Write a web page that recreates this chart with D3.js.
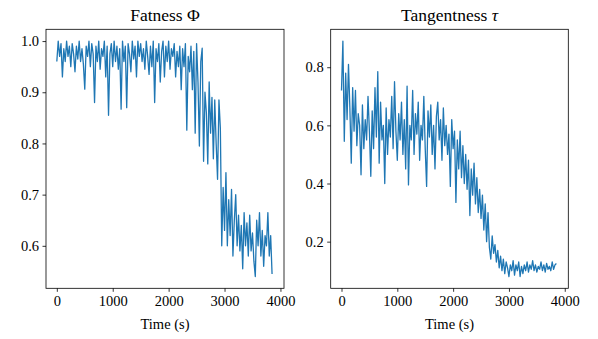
<!DOCTYPE html>
<html>
<head>
<meta charset="utf-8">
<script src="https://cdn.jsdelivr.net/npm/d3@7"></script>
<style>
  body { margin: 0; background: #fff; }
  text { font-family: "Liberation Serif", "DejaVu Serif", serif; fill: #000; }
</style>
</head>
<body>
<svg id="chart"></svg>
<script>
// sampling interval of the recording (s)
const timeStep = 25;

// Fatness Phi, one value per sample
const fatness = [
  0.96, 1.0, 0.97, 0.995, 0.93, 0.985, 0.96, 1.0, 0.97, 0.99,
  0.95, 0.995, 0.975, 0.94, 0.99, 0.965, 1.0, 0.96, 0.985, 0.955,
  0.906, 0.99, 0.97, 1.0, 0.95, 0.995, 0.975, 0.88, 0.99, 0.96,
  1.0, 0.945, 0.985, 0.97, 1.0, 0.93, 0.99, 0.855, 0.975, 0.995,
  0.95, 1.0, 0.96, 0.99, 0.945, 0.985, 0.867, 1.0, 0.96, 0.99,
  0.87, 0.995, 0.975, 0.94, 1.0, 0.965, 0.99, 0.93, 1.0, 0.97,
  0.995, 0.96, 0.985, 0.945, 1.0, 0.97, 0.935, 0.99, 0.95, 1.0,
  0.88, 0.985, 0.96, 0.995, 0.92, 0.98, 1.0, 0.93, 0.99, 0.96,
  1.0, 0.945, 0.985, 0.97, 0.995, 0.93, 0.98, 0.95, 0.99, 0.905,
  0.985, 0.95, 0.995, 0.826, 0.97, 0.94, 0.99, 0.905, 0.98, 0.82,
  0.995, 0.92, 0.795, 0.96, 0.986, 0.765, 0.9, 0.86, 0.76, 0.92,
  0.82, 0.89, 0.77, 0.885, 0.8, 0.73, 0.885, 0.83, 0.6, 0.714,
  0.63, 0.743, 0.6, 0.69, 0.62, 0.71, 0.58, 0.65, 0.7, 0.6,
  0.66, 0.59, 0.64, 0.555, 0.665, 0.6, 0.645, 0.58, 0.66, 0.59,
  0.625, 0.57, 0.54, 0.65, 0.6, 0.665, 0.58, 0.63, 0.56, 0.62,
  0.6, 0.665, 0.58, 0.62, 0.545
];

// Tangentness tau, one value per sample
const tangentness = [
  0.72, 0.89, 0.545, 0.78, 0.62, 0.81, 0.66, 0.47, 0.73, 0.58,
  0.72, 0.53, 0.64, 0.6, 0.43, 0.67, 0.52, 0.62, 0.55, 0.7,
  0.58, 0.425, 0.65, 0.52, 0.73, 0.56, 0.785, 0.47, 0.68, 0.55,
  0.6, 0.4, 0.66, 0.5, 0.62, 0.56, 0.7, 0.52, 0.75, 0.58,
  0.48, 0.64, 0.55, 0.68, 0.5, 0.62, 0.45, 0.735, 0.395, 0.6,
  0.55, 0.72, 0.5, 0.64, 0.57, 0.68, 0.48, 0.6, 0.55, 0.7,
  0.52, 0.39, 0.65, 0.56, 0.67, 0.5, 0.6, 0.45, 0.63, 0.68,
  0.55, 0.62, 0.48, 0.66, 0.53, 0.6, 0.5, 0.57, 0.39, 0.62,
  0.52, 0.58, 0.335, 0.55, 0.45, 0.58, 0.42, 0.53, 0.4, 0.5,
  0.38, 0.48, 0.29, 0.45, 0.36, 0.47, 0.33, 0.42, 0.3, 0.38,
  0.28, 0.36, 0.24, 0.33, 0.2, 0.3, 0.18, 0.14, 0.22, 0.16,
  0.19, 0.13, 0.17, 0.11, 0.15, 0.1, 0.14, 0.09, 0.13, 0.11,
  0.08, 0.12, 0.1, 0.135, 0.085, 0.12, 0.1, 0.13, 0.08, 0.115,
  0.09, 0.12, 0.1, 0.13, 0.095, 0.12, 0.105, 0.135, 0.1, 0.12,
  0.095, 0.115, 0.105, 0.13, 0.1, 0.12, 0.095, 0.125, 0.105, 0.115,
  0.1, 0.13, 0.105, 0.12, 0.125
];

const xTicks = [0, 1000, 2000, 3000, 4000];
const fatnessTicks = [0.6, 0.7, 0.8, 0.9, 1.0];
const tangentnessTicks = [0.2, 0.4, 0.6, 0.8];

const width = 598, height = 339;
const svg = d3.select("#chart").attr("width", width).attr("height", height);

// matplotlib-style 5% margins around the data
function padded(ext) {
  const m = (ext[1] - ext[0]) * 0.05;
  return [ext[0] - m, ext[1] + m];
}

function drawPanel(box, values, yTicks, title, symbol, italicSymbol) {
  const data = values.map((v, i) => ({ t: i * timeStep, v: v }));

  const x = d3.scaleLinear()
    .domain(padded([0, 3870]))
    .range([box.left, box.right]);
  const y = d3.scaleLinear()
    .domain(padded(d3.extent(values)))
    .range([box.bottom, box.top]);

  const g = svg.append("g");

  // the line
  g.append("path")
    .datum(data)
    .attr("fill", "none")
    .attr("stroke", "#1f77b4")
    .attr("stroke-width", 1.3)
    .attr("stroke-linejoin", "round")
    .attr("d", d3.line().x(d => x(d.t)).y(d => y(d.v)));

  // axes
  const xAxis = g.append("g")
    .attr("transform", "translate(0," + box.bottom + ")")
    .call(d3.axisBottom(x).tickValues(xTicks).tickSize(3.5).tickPadding(3.5).tickFormat(d3.format("d")));
  const yAxis = g.append("g")
    .attr("transform", "translate(" + box.left + ",0)")
    .call(d3.axisLeft(y).tickValues(yTicks).tickSize(3.5).tickPadding(3.5).tickFormat(d3.format(".1f")));

  [xAxis, yAxis].forEach(a => {
    a.select(".domain").remove();
    a.selectAll(".tick line").attr("stroke", "#000").attr("stroke-width", 0.8);
    a.selectAll("text").style("font-size", "14.5px").attr("fill", "#000");
  });

  // frame
  g.append("rect")
    .attr("x", box.left).attr("y", box.top)
    .attr("width", box.right - box.left).attr("height", box.bottom - box.top)
    .attr("fill", "none").attr("stroke", "#000").attr("stroke-width", 0.8);

  // title
  const cx = (box.left + box.right) / 2;
  const t = g.append("text")
    .attr("x", cx).attr("y", 20.5)
    .attr("text-anchor", "middle")
    .style("font-size", "17.5px");
  t.append("tspan").text(title + " ");
  t.append("tspan").text(symbol).style("font-style", italicSymbol ? "italic" : "normal");

  // x label
  g.append("text")
    .attr("x", cx).attr("y", 329)
    .attr("text-anchor", "middle")
    .style("font-size", "14.5px")
    .text("Time (s)");
}

drawPanel({ left: 46, right: 284, top: 29.3, bottom: 288.3 }, fatness, fatnessTicks, "Fatness", "Φ", false);
drawPanel({ left: 330.7, right: 568.3, top: 29.3, bottom: 288.3 }, tangentness, tangentnessTicks, "Tangentness", "τ", true);
</script>
</body>
</html>
